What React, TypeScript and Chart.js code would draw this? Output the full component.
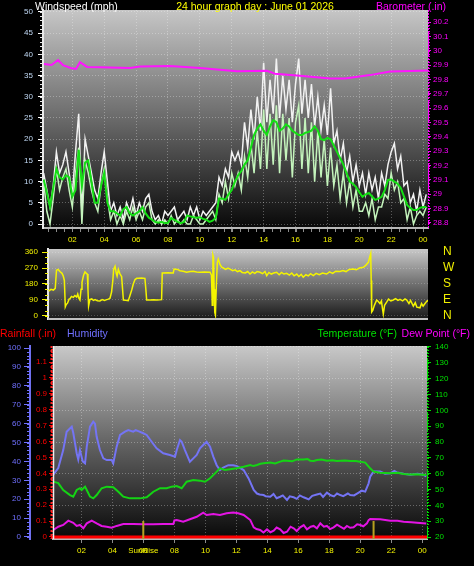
import React, { useEffect, useRef } from 'react';
import { Chart, registerables } from 'chart.js';

Chart.register(...registerables);

const FONT = '"Liberation Sans", Arial, Helvetica, sans-serif';
const GRID = 'rgba(255,255,255,0.30)';

// ---------- time axis ----------
const timeMin = 0.16;
const timeMax = 24.31;
const hourTicks = [2, 4, 6, 8, 10, 12, 14, 16, 18, 20, 22, 24];
const hourTickLabels = ['02', '04', '06', '08', '10', '12', '14', '16', '18', '20', '22', '00'];
const sunRiseHour = 5.99;
const sunSetHour = 20.86;
const sunEventHours = [sunRiseHour, sunSetHour];
const sunMarkerTop = 0.1;

// ---------- wind (mph) ----------
const windHours = [
  0.2, 0.4, 0.6, 0.8, 1.0, 1.2, 1.4, 1.6, 1.8, 2.0,
  2.2, 2.4, 2.6, 2.8, 3.0, 3.2, 3.4, 3.6, 3.8, 4.0,
  4.2, 4.4, 4.6, 4.8, 5.0, 5.2, 5.4, 5.6, 5.8, 6.0,
  6.2, 6.4, 6.6, 6.8, 7.0, 7.2, 7.4, 7.6, 7.8, 8.0,
  8.2, 8.4, 8.6, 8.8, 9.0, 9.2, 9.4, 9.6, 9.8, 10.0,
  10.2, 10.4, 10.6, 10.8, 11.0, 11.2, 11.4, 11.6, 11.8, 12.0,
  12.2, 12.4, 12.6, 12.8, 13.0, 13.2, 13.4, 13.6, 13.8, 14.0,
  14.2, 14.4, 14.6, 14.8, 15.0, 15.2, 15.4, 15.6, 15.8, 16.0,
  16.2, 16.4, 16.6, 16.8, 17.0, 17.2, 17.4, 17.6, 17.8, 18.0,
  18.2, 18.4, 18.6, 18.8, 19.0, 19.2, 19.4, 19.6, 19.8, 20.0,
  20.2, 20.4, 20.6, 20.8, 21.0, 21.2, 21.4, 21.6, 21.8, 22.0,
  22.2, 22.4, 22.6, 22.8, 23.0, 23.2, 23.4, 23.6, 23.8, 24.0,
  24.2,
];
const windGust = [
  12, 8, 4, 9, 17, 12, 14, 17, 12, 7,
  17, 26, 2, 20, 16, 12, 8, 6, 12, 17,
  10, 3, 5, 2, 4, 1, 5, 3, 6, 2,
  5, 3, 6, 7, 3, 1, 2, 0, 3, 2,
  3, 4, 1, 2, 3, 1, 4, 2, 4, 1,
  3, 2, 3, 4, 5, 11, 9, 13, 11, 17,
  15, 17, 14, 24, 18, 27, 20, 30, 22, 38,
  24, 34, 26, 39, 25, 35, 27, 34, 24, 33,
  39, 26, 34, 25, 33, 23, 30, 22, 28, 21,
  32, 19, 22, 15, 19, 12, 16, 10, 14, 9,
  12, 7, 12, 8, 11, 6, 12, 9, 14, 17,
  19, 13, 16, 9, 10, 5, 7, 3, 8, 4, 7,
];
const windSpeed = [
  10, 3, 0, 6, 13, 8, 11, 13, 8, 4,
  12, 18, 0, 15, 12, 8, 5, 3, 9, 13,
  6, 1, 3, 0, 2, 0, 3, 1, 4, 1,
  3, 1, 4, 5, 1, 0, 1, 0, 1, 0,
  2, 0, 1, 0, 1, 0, 0, 2, 1, 0,
  0, 1, 2, 3, 1, 7, 5, 10, 6, 12,
  9, 12, 8, 16, 11, 19, 12, 22, 13, 27,
  13, 26, 14, 28, 12, 26, 15, 25, 11, 24,
  28, 13, 25, 12, 24, 10, 22, 11, 20, 9,
  18, 9, 14, 6, 12, 5, 10, 4, 8, 3,
  3, 5, 2, 6, 1, 4, 4, 7, 6, 12,
  8, 10, 5, 6, 1, 4, 0, 2, 3, 2, 4,
];
const windAvg = [
  10.5, 7.5, 4, 8.5, 13, 11, 10.5, 11.5, 11, 6.5,
  8, 17.5, 9, 14.5, 15, 10, 5, 5, 9, 12,
  5, 3, 3, 2.5, 2, 3.5, 4, 2.5, 2, 2.5,
  3, 4, 2.5, 1.5, 1, 0.5, 0.3, 0.5, 0.2, 0.3,
  1.4, 1, 0.5, 0.2, 0.5, 2, 1.8, 1.6, 1.5, 1.6,
  1.2, 1, 0.5, 0.8, 1.5, 6, 6, 5.7, 7, 8,
  10, 11.5, 12.5, 14, 15, 18, 21, 22.5, 23.5, 22,
  21, 23, 24.5, 24, 22, 22.5, 23.5, 23, 22, 21.5,
  21, 21, 21.5, 21.7, 22, 23, 22, 20, 19.8, 20.3,
  20, 18.5, 17, 15.5, 14, 12, 10, 9.5, 8.7, 7.5,
  6.4, 7, 7.3, 6.5, 5.7, 6, 6.4, 8, 10.4, 10.5,
  10, 9.5, 8.5, 6.5, 4.5, 3.8, 3.3, 3.3, 3.8, 4, 4,
];
const windTicks = [0, 5, 10, 15, 20, 25, 30, 35, 40, 45, 50];

// ---------- barometer (in) ----------
const baroHours = [0.22, 0.7, 1.1, 1.41, 1.9, 2.23, 2.48, 2.92, 3.74, 5.62, 6.25, 8.13, 10.01, 12.33, 14.21, 14.71, 16.28, 18.17, 19.1, 20.67, 21.93, 23.81, 24.31];
const baroValues = [29.907, 29.9, 29.935, 29.9, 29.88, 29.873, 29.92, 29.887, 29.885, 29.88, 29.89, 29.894, 29.88, 29.857, 29.86, 29.84, 29.826, 29.807, 29.807, 29.83, 29.855, 29.86, 29.862];
const baroTicks = [28.8, 28.9, 29.0, 29.1, 29.2, 29.3, 29.4, 29.5, 29.6, 29.7, 29.8, 29.9, 30.0, 30.1, 30.2];

// ---------- wind direction (deg) ----------
const dirHours = [
  0.2, 0.35, 0.5, 0.62, 0.7, 0.8, 0.92, 1.05, 1.13, 1.2,
  1.26, 1.32, 1.4, 1.5, 1.56, 1.65, 1.77, 1.87, 1.98, 2.05,
  2.12, 2.19, 2.26, 2.32, 2.42, 2.51, 2.6, 2.66, 2.7, 2.74,
  2.82, 2.94, 3.05, 3.15, 3.3, 3.46, 3.6, 3.75, 3.89, 4.0,
  4.1, 4.2, 4.28, 4.33, 4.42, 4.5, 4.55, 4.63, 4.72, 4.84,
  4.9, 4.95, 5.1, 5.26, 5.35, 5.48, 5.58, 5.69, 5.8, 5.9,
  6.1, 6.32, 6.38, 6.43, 6.65, 6.85, 7.1, 7.38, 7.42, 7.8,
  8.12, 8.17, 8.4, 8.55, 8.75, 8.97, 9.2, 9.39, 9.6, 9.82,
  10.1, 10.46, 10.55, 10.6, 10.64, 10.68, 10.72, 10.76, 10.8, 10.86,
  10.92, 10.98, 11.09, 11.2, 11.3, 11.45, 11.6, 11.73, 11.9, 12.05,
  12.2, 12.36, 12.5, 12.7, 12.85, 13.0, 13.15, 13.3, 13.45, 13.63,
  13.8, 13.95, 14.06, 14.2, 14.35, 14.5, 14.69, 14.85, 15.0, 15.15,
  15.33, 15.5, 15.65, 15.8, 15.97, 16.1, 16.25, 16.38, 16.55, 16.7,
  16.85, 17.02, 17.2, 17.4, 17.6, 17.87, 18.05, 18.25, 18.45, 18.72,
  18.9, 19.1, 19.3, 19.56, 19.75, 19.95, 20.2, 20.35, 20.52, 20.6,
  20.67, 20.7, 20.73, 20.8, 20.9, 21.05, 21.15, 21.26, 21.35, 21.42,
  21.47, 21.55, 21.69, 21.8, 21.95, 22.1, 22.25, 22.4, 22.53, 22.7,
  22.85, 22.96, 23.1, 23.2, 23.38, 23.5, 23.6, 23.8, 23.9, 24.0,
  24.12, 24.25, 24.3,
];
const dirValues = [
  140, 150, 146, 155, 258, 262, 250, 240, 225, 200,
  52, 65, 72, 95, 98, 110, 105, 115, 107, 124,
  100, 90, 150, 190, 230, 248, 240, 236, 150, 56,
  92, 96, 88, 92, 86, 84, 92, 88, 92, 95,
  100, 135, 200, 262, 280, 240, 225, 262, 240, 221,
  150, 90, 88, 86, 110, 146, 180, 205, 212, 212,
  214, 212, 150, 90, 90, 92, 90, 92, 242, 243,
  242, 264, 262, 255, 252, 246, 250, 251, 247, 246,
  247, 246, 230, 60, 343, 330, 150, 20, 5, 180,
  300, 320, 290, 275, 270, 262, 270, 264, 255, 260,
  250, 255, 245, 242, 250, 236, 248, 240, 250, 246,
  238, 250, 227, 245, 236, 242, 246, 232, 245, 236,
  240, 230, 242, 226, 236, 222, 234, 218, 232, 226,
  238, 227, 240, 232, 242, 236, 248, 240, 252, 251,
  256, 250, 262, 264, 260, 270, 274, 285, 302, 330,
  352, 200, 22, 31, 60, 90, 82, 70, 85, 40,
  11, 60, 79, 95, 85, 90, 98, 88, 94, 85,
  96, 90, 70, 88, 56, 75, 50, 46, 70, 55,
  70, 85, 90,
];
const dirTicks = [0, 90, 180, 270, 360];
const dirLetters = ['N', 'E', 'S', 'W', 'N'];

// ---------- humidity (%) ----------
const humHours = [
  0.18, 0.4, 0.5, 0.82, 1.04, 1.2, 1.37, 1.47, 1.69, 1.79,
  1.9, 2.08, 2.23, 2.34, 2.55, 2.76, 2.87, 2.98, 3.19, 3.41,
  3.63, 3.95, 4.05, 4.27, 4.49, 4.81, 5.02, 5.34, 5.5, 5.67,
  5.99, 6.21, 6.53, 6.85, 7.28, 7.71, 8.04, 8.15, 8.36, 8.47,
  8.68, 9.0, 9.22, 9.44, 9.65, 9.86, 10.08, 10.3, 10.51, 10.73,
  10.94, 11.15, 11.48, 11.8, 12.04, 12.47, 12.79, 13.12, 13.33, 13.5,
  13.76, 13.9, 14.19, 14.4, 14.6, 14.83, 15.0, 15.27, 15.45, 15.7,
  15.9, 16.1, 16.34, 16.5, 16.67, 16.9, 17.2, 17.42, 17.6, 17.85,
  18.06, 18.3, 18.5, 18.71, 18.9, 19.2, 19.35, 19.6, 19.9, 20.1,
  20.32, 20.54, 20.64, 20.86, 21.29, 21.6, 21.94, 22.2, 22.37, 22.8,
  23.23, 23.7, 24.09, 24.26,
];
const humValues = [
  33, 35.4, 36.5, 46, 55.7, 57, 58.4, 55, 44.3, 41,
  46, 40, 39, 47.8, 58.4, 61, 60, 53, 46, 41.6,
  40.7, 40.7, 39, 47.8, 54, 55.7, 56.6, 55.7, 56.5, 56,
  54.9, 54, 50.4, 46.9, 44.3, 43.4, 42.5, 46, 51.3, 50.4,
  46, 39.8, 41.6, 43.4, 46.9, 48.7, 50.4, 47.8, 42.5, 38,
  35.4, 36.7, 38, 38, 37.5, 35.4, 31, 24.9, 23, 22.5,
  22.2, 21.5, 21.3, 22.8, 20.5, 21.3, 22, 19.6, 21.5, 21,
  20.2, 22, 21, 20.5, 19.9, 21.8, 22.5, 23, 21.2, 23.5,
  22.2, 21.5, 23, 22.2, 21.6, 23, 22.2, 22, 23.5, 24.5,
  24, 28.4, 31.9, 34.6, 34.6, 33.5, 33.7, 35, 34.2, 33.5,
  32.9, 33.5, 32.9, 32,
];
const humTicks = [0, 10, 20, 30, 40, 50, 60, 70, 80, 90, 100];

// ---------- temperature (F) ----------
const tempHours = [
  0.18, 0.5, 0.82, 1.26, 1.47, 1.69, 1.9, 2.01, 2.23, 2.34,
  2.55, 2.76, 2.98, 3.3, 3.63, 4.05, 4.38, 4.7, 5.13, 5.45,
  5.78, 6.21, 6.64, 7.07, 7.5, 7.82, 8.15, 8.47, 8.79, 9.22,
  9.65, 9.97, 10.3, 10.62, 10.94, 11.26, 11.59, 12.02, 12.47, 12.9,
  13.1, 13.33, 13.55, 13.76, 14.19, 14.5, 14.83, 15.05, 15.27, 15.6,
  15.91, 16.34, 16.6, 16.77, 17.0, 17.2, 17.5, 17.85, 18.2, 18.49,
  19.0, 19.35, 19.7, 20.0, 20.32, 20.64, 20.86, 21.29, 21.94, 22.4,
  22.8, 23.2, 23.66, 24.26,
];
const tempValues = [
  55, 54, 49.7, 46.5, 45.5, 49.7, 50.8, 49.7, 51.8, 49.7,
  45.5, 44.4, 46.5, 50.8, 51.8, 51.4, 48.6, 45.5, 44.4, 44.4,
  44.4, 45.1, 48.6, 50.8, 50.8, 51.8, 52.2, 50.8, 54.9, 56,
  55.6, 54.9, 57.1, 60.2, 63.4, 62.3, 62.8, 63.4, 64.4, 65.5,
  64.8, 65.5, 66.3, 66.6, 67, 66.5, 67.6, 68.3, 68.2, 67.8,
  69, 69, 69.3, 68.2, 68, 68.6, 69, 68.2, 68.5, 68,
  68.3, 68, 68, 67.6, 67, 63.4, 61.3, 60.6, 60.2, 60.6,
  59.8, 59.4, 59.6, 59.2,
];
const tempTicks = [20, 30, 40, 50, 60, 70, 80, 90, 100, 110, 120, 130, 140];

// ---------- dew point (F) ----------
const dewHours = [
  0.18, 0.5, 0.82, 1.15, 1.47, 1.69, 1.9, 2.12, 2.34, 2.66,
  2.98, 3.3, 3.63, 3.95, 4.27, 4.7, 5.34, 5.99, 6.64, 7.28,
  7.93, 8.0, 8.15, 8.57, 9.0, 9.44, 9.86, 10.08, 10.51, 10.94,
  11.37, 11.8, 12.12, 12.47, 12.9, 13.12, 13.3, 13.54, 13.75, 13.98,
  14.2, 14.41, 14.6, 14.83, 15.05, 15.27, 15.5, 15.7, 15.9, 16.12,
  16.35, 16.56, 16.8, 16.99, 17.2, 17.42, 17.65, 17.85, 18.05, 18.28,
  18.5, 18.71, 18.95, 19.14, 19.35, 19.57, 19.8, 20.0, 20.2, 20.43,
  20.54, 20.64, 21.29, 21.94, 22.4, 22.8, 23.3, 23.66, 24.26,
];
const dewValues = [
  24.4, 26.5, 27.6, 30.3, 29, 27, 27.6, 25.5, 28.6, 30.3,
  28.6, 27, 26.5, 25.9, 27, 28.2, 28.2, 28, 28, 28.2,
  28.2, 30.5, 30.7, 29.7, 31.2, 32.8, 35.4, 33.9, 34.5, 33.9,
  35, 35.4, 35, 33.9, 30.7, 26.1, 25, 24.4, 22.8, 24.8,
  23, 24, 26, 24.8, 22.5, 23.3, 26.5, 25.5, 23.8, 26.1,
  27.5, 24.8, 26.5, 27, 25.5, 28.6, 26.5, 27, 25, 26.1,
  27.8, 26.5, 25.2, 27, 25.8, 26.1, 28, 27.6, 26.8, 28.6,
  30.7, 31.4, 31.2, 30.3, 30.2, 29.7, 29.3, 29, 28.6,
];

// ---------- rainfall (in) ----------
const rainHours = [0.16, 24.31];
const rainValues = [0, 0];
const rainTicks = [0, 0.1, 0.2, 0.3, 0.4, 0.5, 0.6, 0.7, 0.8, 0.9, 1.0, 1.1];

// ---------- helpers ----------
function pts(hours: number[], values: (number | null)[]) {
  return hours.map((h, i) => ({ x: h, y: values[i] }));
}
function ticksFrom(values: number[]) {
  return (scale: any) => {
    scale.ticks = values.map((v) => ({ value: v }));
  };
}
function hourLabel(v: number) {
  const i = hourTicks.indexOf(v);
  return i >= 0 ? hourTickLabels[i] : '';
}
function oneDecimal(v: number) {
  return String(Math.round(v * 10) / 10);
}
function line(label: string, data: any[], color: string, width: number, yAxisID: string) {
  return { label, data, borderColor: color, backgroundColor: color, borderWidth: width, pointRadius: 0, fill: false, tension: 0, spanGaps: false, yAxisID, xAxisID: 'x' };
}

// ---------- plugins ----------
const plotBgPlugin = {
  id: 'plotBg',
  beforeDraw(chart: any, _a: any, opts: any) {
    const { ctx, chartArea: a } = chart;
    const g = ctx.createLinearGradient(0, a.top, 0, a.bottom);
    (opts.stops || []).forEach((s: any) => g.addColorStop(s[0], s[1]));
    ctx.save();
    ctx.fillStyle = g;
    ctx.fillRect(a.left, a.top, a.right - a.left, a.bottom - a.top);
    ctx.restore();
  },
};

const minorTicksPlugin = {
  id: 'minorTicks',
  afterDraw(chart: any, _a: any, opts: any) {
    const ctx = chart.ctx;
    (opts.items || []).forEach((it: any) => {
      const s = chart.scales[it.scale];
      if (!s) return;
      const n = Math.round((it.to - it.from) / it.step);
      ctx.save();
      ctx.strokeStyle = it.color;
      ctx.lineWidth = 1;
      ctx.beginPath();
      for (let k = 0; k <= n; k++) {
        const p = Math.round(s.getPixelForValue(it.from + k * it.step)) + 0.5;
        if (s.isHorizontal()) {
          ctx.moveTo(p, s.top + 1);
          ctx.lineTo(p, s.top + 1 + it.length);
        } else if (s.position === 'left') {
          ctx.moveTo(s.right - it.length, p);
          ctx.lineTo(s.right, p);
        } else {
          ctx.moveTo(s.left, p);
          ctx.lineTo(s.left + it.length, p);
        }
      }
      ctx.stroke();
      ctx.restore();
    });
  },
};

const edgesPlugin = {
  id: 'edges',
  afterDraw(chart: any, _a: any, opts: any) {
    const { ctx, chartArea: a } = chart;
    (opts.items || []).forEach((it: any) => {
      ctx.save();
      ctx.strokeStyle = it.color;
      ctx.lineWidth = it.width;
      ctx.setLineDash(it.dash || []);
      ctx.beginPath();
      if (it.side === 'left' || it.side === 'right') {
        const x = (it.side === 'left' ? a.left : a.right) + (it.offset || 0);
        ctx.moveTo(x, a.top);
        ctx.lineTo(x, a.bottom);
      } else {
        const y = (it.side === 'top' ? a.top : a.bottom) + (it.offset || 0);
        ctx.moveTo(a.left, y);
        ctx.lineTo(a.right, y);
      }
      ctx.stroke();
      ctx.restore();
    });
  },
};

const textPlugin = {
  id: 'texts',
  afterDraw(chart: any, _a: any, opts: any) {
    const ctx = chart.ctx;
    (opts.items || []).forEach((t: any) => {
      ctx.save();
      ctx.font = t.font;
      ctx.fillStyle = t.color;
      ctx.textAlign = t.align || 'left';
      ctx.textBaseline = 'alphabetic';
      ctx.fillText(t.text, t.x, t.y);
      ctx.restore();
    });
  },
};

const PLUGINS = [plotBgPlugin, minorTicksPlugin, edgesPlugin, textPlugin];
const TITLE_FONT = `10.5px ${FONT}`;
const TICK_FONT = { family: FONT, size: 8 };

function timeAxis(labelFn: (v: number) => string, values: number[], height: number, gridColor: any) {
  return {
    type: 'linear',
    position: 'bottom',
    min: timeMin,
    max: timeMax,
    afterBuildTicks: ticksFrom(values),
    afterFit: (s: any) => { s.height = height; },
    ticks: { color: '#f4f400', font: TICK_FONT, padding: 3, autoSkip: false, maxRotation: 0, minRotation: 0, callback: (v: any) => labelFn(v) },
    grid: { color: gridColor, lineWidth: 1, drawTicks: true, tickLength: 4, tickColor: '#8c8c8c', tickBorderDash: [] },
    border: { display: true, color: '#b8b8b8', width: 2, dash: [1, 2] },
  };
}

function configWind() {
  return {
    type: 'line',
    data: {
      datasets: [
        line('Barometer', pts(baroHours, baroValues), '#ff14ff', 2, 'baro'),
        line('Average', pts(windHours, windAvg), '#14e014', 2, 'wind'),
        line('Wind speed', pts(windHours, windSpeed), '#c4f4bc', 1.5, 'wind'),
        line('Gust', pts(windHours, windGust), '#f2f2f2', 1.5, 'wind'),
      ],
    },
    options: {
      responsive: false,
      animation: false,
      devicePixelRatio: 1,
      layout: { padding: { top: 10, left: 0, right: 0, bottom: 0 } },
      plugins: {
        legend: { display: false },
        tooltip: { enabled: false },
        plotBg: { stops: [[0, '#c6c6c6'], [0.5, '#6a6a6a'], [1, '#080808']] },
        minorTicks: {
          items: [
            { scale: 'wind', step: 1, length: 3, color: '#e8e8e8', from: 0, to: 50 },
            { scale: 'baro', step: 0.02, length: 2, color: '#ff00ff', from: 28.8, to: 30.2 },
            { scale: 'x', step: 0.5, length: 3, color: '#8c8c8c', from: 0.5, to: 24 },
          ],
        },
        edges: { items: [{ side: 'right', offset: 0.5, color: '#ff00ff', width: 1, dash: [2, 1] }] },
        texts: {
          items: [
            { text: 'Windspeed (mph)', x: 35, y: 10, color: '#ffffff', font: TITLE_FONT },
            { text: '24 hour graph day : June 01 2026', x: 255, y: 10, align: 'center', color: '#ffff00', font: TITLE_FONT },
            { text: 'Barometer (.in)', x: 446, y: 10, align: 'right', color: '#ff00ff', font: TITLE_FONT },
          ],
        },
      },
      scales: {
        x: timeAxis(hourLabel, hourTicks, 20, GRID),
        wind: {
          type: 'linear', position: 'left', min: -0.943, max: 50.47,
          afterBuildTicks: ticksFrom(windTicks),
          afterFit: (s: any) => { s.width = 43; },
          ticks: { color: '#c0d8f4', font: TICK_FONT, padding: 5, autoSkip: false },
          grid: { color: GRID, tickLength: 5, tickColor: '#ffffff', tickBorderDash: [] },
          border: { display: true, color: '#e8e8e8', width: 2, dash: [1, 2] },
        },
        baro: {
          type: 'linear', position: 'right', min: 28.765, max: 30.2836,
          afterBuildTicks: ticksFrom(baroTicks),
          afterFit: (s: any) => { s.width = 46; },
          ticks: { color: '#ff00ff', font: TICK_FONT, padding: 2, autoSkip: false, callback: (v: any) => oneDecimal(v) },
          grid: { drawOnChartArea: false, tickLength: 3, tickColor: '#ff00ff', tickBorderDash: [] },
          border: { display: false },
        },
      },
    },
    plugins: PLUGINS,
  };
}

function configDir() {
  return {
    type: 'line',
    data: { datasets: [line('Wind direction', pts(dirHours, dirValues), '#f4f400', 1.5, 'dir')] },
    options: {
      responsive: false,
      animation: false,
      devicePixelRatio: 1,
      layout: { padding: { top: 9, left: 0, right: 0, bottom: 11 } },
      plugins: {
        legend: { display: false },
        tooltip: { enabled: false },
        plotBg: { stops: [[0, '#c8c8c8'], [0.5, '#707070'], [1, '#181818']] },
        minorTicks: { items: [{ scale: 'dir', step: 30, length: 3, color: '#f0f000', from: 0, to: 360 }] },
        edges: { items: [{ side: 'bottom', offset: 0, color: '#c0c0c0', width: 2 }] },
      },
      scales: {
        x: { type: 'linear', display: false, min: timeMin, max: timeMax },
        dir: {
          type: 'linear', position: 'left', min: -16.9, max: 376.9,
          afterBuildTicks: ticksFrom(dirTicks),
          afterFit: (s: any) => { s.width = 48; },
          ticks: { color: '#f0f000', font: TICK_FONT, padding: 4, autoSkip: false },
          grid: { color: 'rgba(255,255,255,0.22)', tickLength: 6, tickColor: '#f0f000', tickBorderDash: [] },
          border: { display: true, color: '#e8e8e8', width: 2, dash: [1, 2] },
        },
        compass: {
          type: 'linear', position: 'right', min: -16.9, max: 376.9,
          afterBuildTicks: ticksFrom(dirTicks),
          afterFit: (s: any) => { s.width = 46; },
          ticks: { color: '#f0f000', font: { family: FONT, size: 12 }, padding: 1, autoSkip: false, callback: (v: any) => dirLetters[dirTicks.indexOf(v)] },
          grid: { display: true, drawOnChartArea: false, drawTicks: true, tickLength: 14, tickColor: 'rgba(0,0,0,0)' },
          border: { display: false },
        },
      },
    },
    plugins: PLUGINS,
  };
}

function configClimate() {
  const sunData = sunEventHours.flatMap((h) => [{ x: h, y: -0.05 }, { x: h, y: sunMarkerTop }, { x: h, y: null }]);
  const xTicks = [...hourTicks, sunRiseHour].sort((a, b) => a - b);
  return {
    type: 'line',
    data: {
      datasets: [
        line('Sun', sunData, '#b8a020', 2, 'rain'),
        line('Rainfall', pts(rainHours, rainValues), '#ff0000', 3, 'rain'),
        line('Dew Point', pts(dewHours, dewValues), '#e414e4', 2, 'temp'),
        line('Temperature', pts(tempHours, tempValues), '#14d414', 2, 'temp'),
        line('Humidity', pts(humHours, humValues), '#7474f4', 2, 'hum'),
      ],
    },
    options: {
      responsive: false,
      animation: false,
      devicePixelRatio: 1,
      layout: { padding: { top: 24, left: 0, right: 0, bottom: 0 } },
      plugins: {
        legend: { display: false },
        tooltip: { enabled: false },
        plotBg: { stops: [[0, '#c8c8c8'], [0.5, '#646464'], [1, '#080808']] },
        minorTicks: {
          items: [
            { scale: 'hum', step: 2, length: 3, color: '#7070ff', from: 0, to: 100 },
            { scale: 'rain', step: 0.02, length: 2, color: '#ff0000', from: 0, to: 1.18 },
            { scale: 'temp', step: 2, length: 2, color: '#00e000', from: 20, to: 140 },
          ],
        },
        edges: {
          items: [
            { side: 'left', offset: -1.5, color: '#ff2020', width: 2, dash: [2, 2] },
            { side: 'left', offset: 0.5, color: '#f0f0f0', width: 1.5 },
            { side: 'right', offset: 0.5, color: '#00e000', width: 1, dash: [2, 1] },
          ],
        },
        texts: {
          items: [
            { text: 'Rainfall (.in)', x: 0, y: 15, color: '#ff0000', font: TITLE_FONT },
            { text: 'Humidity', x: 67, y: 15, color: '#7070ff', font: TITLE_FONT },
            { text: 'Temperature (°F)', x: 397, y: 15, align: 'right', color: '#00e000', font: TITLE_FONT },
            { text: 'Dew Point (°F)', x: 470, y: 15, align: 'right', color: '#ff00ff', font: TITLE_FONT },
          ],
        },
      },
      scales: {
        x: timeAxis(
          (v) => (v === sunRiseHour ? 'SunRise' : hourLabel(v)),
          xTicks,
          27,
          (c: any) => (c.tick && c.tick.value === sunRiseHour ? 'rgba(0,0,0,0)' : GRID),
        ),
        hum: {
          type: 'linear', position: 'left', weight: 1, min: -1.06, max: 101.06,
          afterBuildTicks: ticksFrom(humTicks),
          afterFit: (s: any) => { s.width = 30; },
          ticks: { color: '#7070ff', font: TICK_FONT, padding: 3, autoSkip: false },
          grid: { drawOnChartArea: false, tickLength: 6, tickColor: '#7070ff', tickBorderDash: [] },
          border: { display: true, color: '#7070f0', width: 2 },
        },
        rain: {
          type: 'linear', position: 'left', weight: 0, min: -0.0126, max: 1.2006,
          afterBuildTicks: ticksFrom(rainTicks),
          afterFit: (s: any) => { s.width = 23; },
          ticks: { color: '#ff0000', font: TICK_FONT, padding: 2, autoSkip: false, callback: (v: any) => oneDecimal(v) },
          grid: { drawOnChartArea: false, tickLength: 4, tickColor: '#ff0000', tickBorderDash: [] },
          border: { display: false },
        },
        temp: {
          type: 'linear', position: 'right', min: 18.74, max: 140.63,
          afterBuildTicks: ticksFrom(tempTicks),
          afterFit: (s: any) => { s.width = 47; },
          ticks: { color: '#00e000', font: TICK_FONT, padding: 4, autoSkip: false },
          grid: {
            color: (c: any) => (c.tick && c.tick.value % 20 === 0 ? GRID : 'rgba(0,0,0,0)'),
            tickLength: 4, tickColor: '#00e000', tickBorderDash: [],
          },
          border: { display: false, dash: [1, 2] },
        },
      },
    },
    plugins: PLUGINS,
  };
}

export default function App() {
  const refA = useRef<HTMLCanvasElement>(null);
  const refB = useRef<HTMLCanvasElement>(null);
  const refC = useRef<HTMLCanvasElement>(null);

  useEffect(() => {
    Chart.defaults.font.family = FONT;
    const charts: Chart[] = [];
    if (refA.current) charts.push(new Chart(refA.current, configWind() as any));
    if (refB.current) charts.push(new Chart(refB.current, configDir() as any));
    if (refC.current) charts.push(new Chart(refC.current, configClimate() as any));
    return () => charts.forEach((c) => c.destroy());
  }, []);

  const abs = (top: number): React.CSSProperties => ({ position: 'absolute', left: 0, top });
  return (
    <div style={{ position: 'fixed', left: 0, top: 0, width: 474, height: 566, background: '#000', overflow: 'hidden' }}>
      <canvas ref={refA} width={474} height={248} style={abs(0)} />
      <canvas ref={refB} width={474} height={90} style={abs(240)} />
      <canvas ref={refC} width={474} height={244} style={abs(322)} />
    </div>
  );
}
